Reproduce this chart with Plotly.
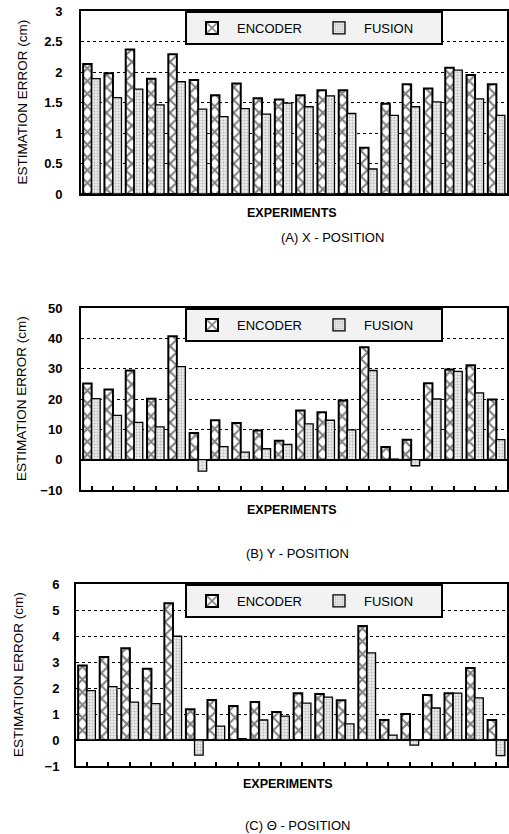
import plotly.graph_objects as go

experiments = [str(i) for i in range(1, 21)]

enc_x = [2.13, 1.98, 2.37, 1.89, 2.29, 1.87, 1.62, 1.81, 1.57, 1.55,
         1.62, 1.70, 1.70, 0.76, 1.48, 1.80, 1.73, 2.07, 1.95, 1.80]
fus_x = [1.89, 1.58, 1.72, 1.46, 1.84, 1.39, 1.27, 1.40, 1.31, 1.49,
         1.43, 1.61, 1.32, 0.41, 1.29, 1.43, 1.51, 2.03, 1.56, 1.29]

enc_y = [25.1, 23.1, 29.4, 20.1, 40.7, 8.8, 13.0, 12.1, 9.6, 6.2,
         16.2, 15.6, 19.5, 37.1, 4.2, 6.6, 25.2, 29.7, 31.1, 19.8]
fus_y = [20.1, 14.6, 12.3, 10.8, 30.7, -3.8, 4.3, 2.5, 3.6, 5.0,
         11.8, 13.0, 9.8, 29.4, 0.2, -2.0, 20.0, 29.1, 22.0, 6.6]

enc_t = [2.87, 3.19, 3.53, 2.74, 5.26, 1.18, 1.54, 1.31, 1.46, 1.08,
         1.80, 1.77, 1.53, 4.38, 0.77, 1.00, 1.73, 1.80, 2.77, 0.77]
fus_t = [1.90, 2.05, 1.46, 1.40, 3.99, -0.58, 0.53, 0.05, 0.77, 0.92,
         1.42, 1.65, 0.62, 3.35, 0.19, -0.20, 1.23, 1.80, 1.62, -0.60]

y_ticks_x = [0, 0.5, 1, 1.5, 2, 2.5, 3]
y_ticks_y = [-10, 0, 10, 20, 30, 40, 50]
y_ticks_t = [-1, 0, 1, 2, 3, 4, 5, 6]

captions = ["(A) X - POSITION", "(B) Y - POSITION", "(C) \u0398 - POSITION"]
series_names = ["ENCODER", "FUSION"]

W, H = 509, 834
FONT = "Liberation Sans, Arial, Helvetica, sans-serif"

fig = go.Figure()

# panel geometry in pixels: (left, right, top, bottom)
panels = [
    dict(enc=enc_x, fus=fus_x, ticks=y_ticks_x, rng=[0, 3], px=(81, 507, 11, 194),
         xticks=False, ytitle_x=22, exp_y=213, cap_y=237, cap_x=332, exp_x=292),
    dict(enc=enc_y, fus=fus_y, ticks=y_ticks_y, rng=[-10, 50], px=(81, 507, 308, 490),
         xticks=True, ytitle_x=21, exp_y=510, cap_y=553, cap_x=297, exp_x=292),
    dict(enc=enc_t, fus=fus_t, ticks=y_ticks_t, rng=[-1, 6], px=(76, 507, 584, 766),
         xticks=True, ytitle_x=18, exp_y=784, cap_y=825, cap_x=297, exp_x=288),
]

annotations = []
for i, p in enumerate(panels):
    n = "" if i == 0 else str(i + 1)
    xa, ya = "x" + n, "y" + n
    lg = "legend" + n
    l, r, t, b = p["px"]
    fig.add_trace(go.Bar(
        x=experiments, y=p["enc"], name=series_names[0], xaxis=xa, yaxis=ya,
        legend=lg,
        marker=dict(color="white", line=dict(color="black", width=2),
                    pattern=dict(shape="x", size=9, solidity=0.4,
                                 fgcolor="black", bgcolor="white")),
    ))
    fig.add_trace(go.Bar(
        x=experiments, y=p["fus"], name=series_names[1], xaxis=xa, yaxis=ya,
        legend=lg,
        marker=dict(color="#d8d8d8", line=dict(color="black", width=1.3),
                    pattern=dict(shape=".", size=3, solidity=0.35,
                                 fgcolor="#888888", bgcolor="#ececec")),
    ))
    xdom = [l / W, r / W]
    ydom = [(H - b) / H, (H - t) / H]
    fig.update_layout(**{
        "xaxis" + n: dict(domain=xdom, anchor=ya, type="category",
                          range=[-0.5, 19.5], showticklabels=False,
                          showline=True, linecolor="black", linewidth=2, mirror=True,
                          ticks="inside" if p["xticks"] else "", ticklen=4,
                          tickwidth=1.5, tickcolor="black", showgrid=False),
        "yaxis" + n: dict(domain=ydom, anchor=xa, range=p["rng"],
                          tickvals=p["ticks"], showline=True, linecolor="black",
                          linewidth=2, mirror=True, showgrid=True,
                          gridcolor="black", griddash="dot", gridwidth=1,
                          zeroline=True, zerolinecolor="black", zerolinewidth=2,
                          ticks="", ticklabelstandoff=14 if i < 2 else 12,
                          tickfont=dict(family=FONT, size=13, color="black",
                                        weight="bold")),
        lg: dict(x=185 / W, y=(H - t) / H, xanchor="left", yanchor="top",
                 orientation="h", bgcolor="#f2f2f2", bordercolor="black",
                 borderwidth=2, entrywidth=72, itemwidth=40,
                 font=dict(family=FONT, size=13, color="black"),
                 traceorder="normal"),
    })
    annotations.append(dict(text="ESTIMATION ERROR (cm)", textangle=-90,
                            x=p["ytitle_x"] / W, y=(H - (t + b) / 2) / H,
                            xref="paper", yref="paper", showarrow=False,
                            xanchor="center", yanchor="middle",
                            font=dict(family=FONT, size=13.5, color="black")))
    annotations.append(dict(text="EXPERIMENTS", x=p["exp_x"] / W,
                            y=(H - p["exp_y"]) / H, xref="paper", yref="paper",
                            showarrow=False, xanchor="center", yanchor="middle",
                            font=dict(family=FONT, size=12.5, color="black",
                                      weight="bold")))
    annotations.append(dict(text=captions[i], x=p["cap_x"] / W,
                            y=(H - p["cap_y"]) / H, xref="paper", yref="paper",
                            showarrow=False, xanchor="center", yanchor="middle",
                            font=dict(family=FONT, size=13, color="black")))

fig.update_layout(width=W, height=H, margin=dict(l=0, r=0, t=0, b=0, autoexpand=False),
                  paper_bgcolor="white", plot_bgcolor="white",
                  barmode="group", bargap=0.2, bargroupgap=0.0,
                  annotations=annotations, showlegend=True)

fig.write_html("out.html")
